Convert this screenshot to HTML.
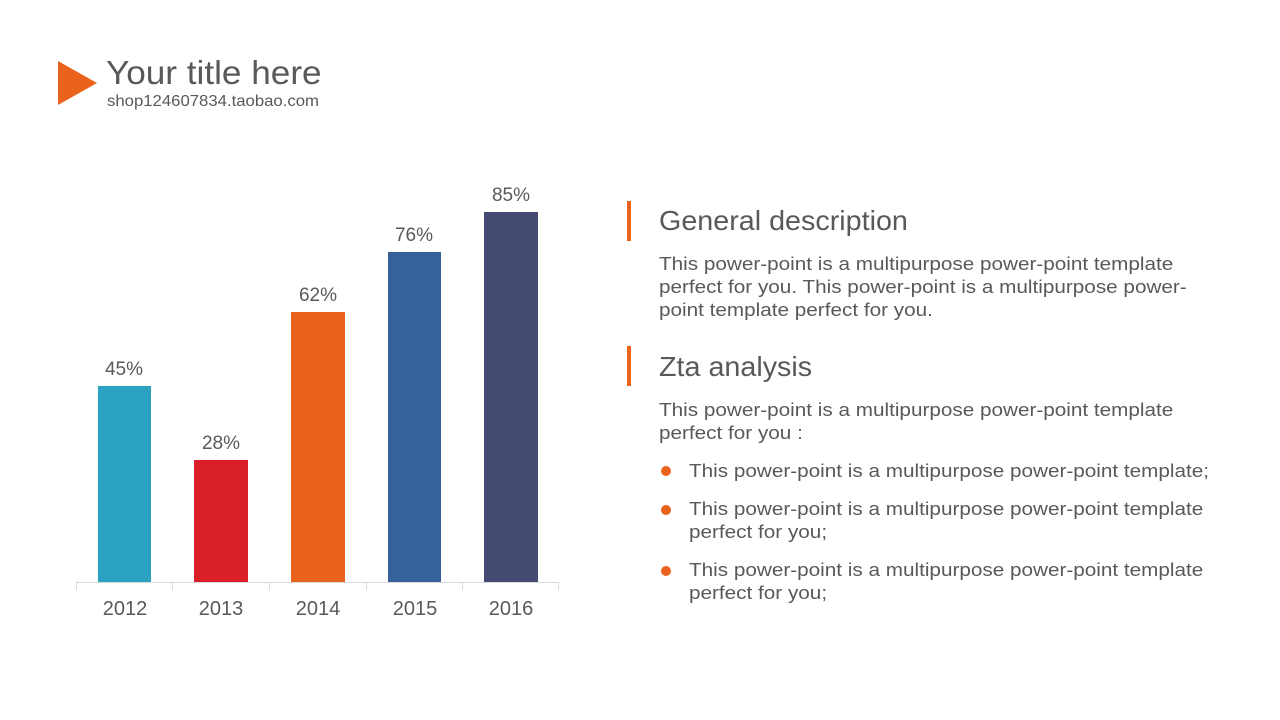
<!DOCTYPE html>
<html><head><meta charset="utf-8"><style>
body{margin:0;width:1280px;height:720px;background:#fff;position:relative;overflow:hidden;font-family:"Liberation Sans","DejaVu Sans",sans-serif;color:#595959}
.a{position:absolute;white-space:nowrap;transform-origin:0 0}
.bar{position:absolute}
.v{position:absolute;width:80px;text-align:center;font-size:19px;color:#595959}
.y{position:absolute;width:96px;text-align:center;font-size:20px;top:598px;color:#595959}
.p{font-size:18px;line-height:23px;transform:scaleX(1.15)}
.ob{position:absolute;left:627px;width:4px;background:#e9631d}
.dot{position:absolute;left:661px;width:10px;height:10px;border-radius:50%;background:#e9631d}
</style></head><body>
<svg class="a" style="left:58px;top:61px" width="40" height="45"><polygon points="0,0 39,22 0,44" fill="#e9631d"/></svg>
<div class="a" style="left:106px;top:54px;font-size:33px;color:#595959;transform:scaleX(1.065)">Your title here</div>
<div class="a" style="left:107px;top:93px;font-size:16px;color:#595959;transform:scaleX(1.045)">shop124607834.taobao.com</div>

<div class="bar" style="left:98px;top:386px;width:53px;height:196px;background:#2ba3c0"></div>
<div class="bar" style="left:194px;top:460px;width:54px;height:122px;background:#db1f2a"></div>
<div class="bar" style="left:291px;top:312px;width:54px;height:270px;background:#e9631d"></div>
<div class="bar" style="left:388px;top:252px;width:53px;height:330px;background:#37619b"></div>
<div class="bar" style="left:484px;top:212px;width:54px;height:370px;background:#454a73"></div>
<div class="v" style="left:84px;top:359px">45%</div>
<div class="v" style="left:181px;top:433px">28%</div>
<div class="v" style="left:278px;top:285px">62%</div>
<div class="v" style="left:374px;top:225px">76%</div>
<div class="v" style="left:471px;top:185px">85%</div>
<svg class="a" style="left:0;top:0" width="600" height="600">
<g stroke="#d9d9d9" stroke-width="1"><line x1="76" y1="582.5" x2="559" y2="582.5"/>
<line x1="76.5" y1="582" x2="76.5" y2="590"/><line x1="172.5" y1="582" x2="172.5" y2="590"/><line x1="269.5" y1="582" x2="269.5" y2="590"/><line x1="366.5" y1="582" x2="366.5" y2="590"/><line x1="462.5" y1="582" x2="462.5" y2="590"/><line x1="558.5" y1="582" x2="558.5" y2="590"/></g></svg>
<div class="y" style="left:77px">2012</div>
<div class="y" style="left:173px">2013</div>
<div class="y" style="left:270px">2014</div>
<div class="y" style="left:367px">2015</div>
<div class="y" style="left:463px">2016</div>

<div class="ob" style="top:201px;height:40px"></div>
<div class="a" style="left:659px;top:205px;font-size:28px;transform:scaleX(1.025)">General description</div>
<div class="a p" style="left:659px;top:253px">This power-point is a multipurpose power-point template<br>perfect for you. This power-point is a multipurpose power-<br>point template perfect for you.</div>
<div class="ob" style="top:346px;height:40px"></div>
<div class="a" style="left:659px;top:351px;font-size:28px;transform:scaleX(1.025)">Zta analysis</div>
<div class="a p" style="left:659px;top:399px">This power-point is a multipurpose power-point template<br>perfect for you :</div>
<div class="dot" style="top:466px"></div>
<div class="a p" style="left:689px;top:460px">This power-point is a multipurpose power-point template;</div>
<div class="dot" style="top:505px"></div>
<div class="a p" style="left:689px;top:498px">This power-point is a multipurpose power-point template<br>perfect for you;</div>
<div class="dot" style="top:566px"></div>
<div class="a p" style="left:689px;top:559px">This power-point is a multipurpose power-point template<br>perfect for you;</div>
</body></html>
